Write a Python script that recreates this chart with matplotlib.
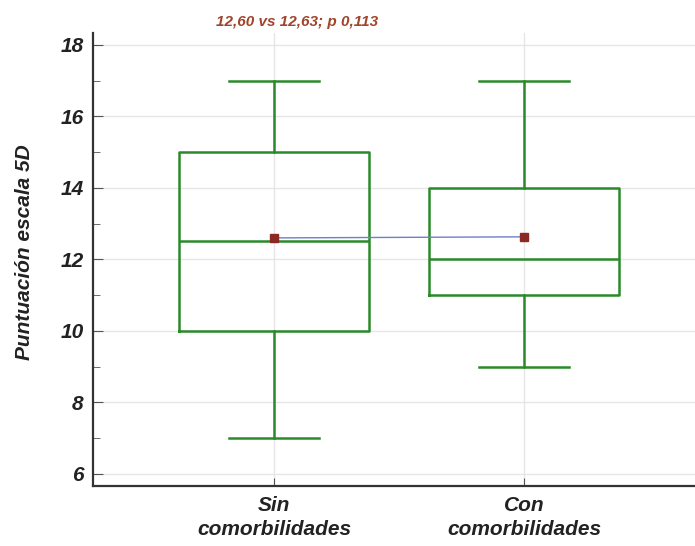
import matplotlib.pyplot as plt

# --- Data ---
groups = ["Sin\ncomorbilidades", "Con\ncomorbilidades"]
mins = [7, 9]
q1s = [10, 11]
medians = [12.5, 12]
q3s = [15, 14]
maxs = [17, 17]
means = [12.60, 12.63]
title = "12,60 vs 12,63; p 0,113"

green = "#2a8a2a"
font = "Liberation Sans"

stats = []
for g, lo, a, m, b, hi, mu in zip(groups, mins, q1s, medians, q3s, maxs, means):
    stats.append(dict(label=g, whislo=lo, q1=a, med=m, q3=b, whishi=hi, mean=mu, fliers=[]))

fig = plt.figure(figsize=(6.95, 5.46), dpi=100)
ax = fig.add_axes([0.134, 0.11, 0.866, 0.83])

pos = list(range(len(groups)))
ax.bxp(stats, positions=pos, widths=0.76, showmeans=False, showfliers=False,
       boxprops=dict(color=green, linewidth=1.8),
       whiskerprops=dict(color=green, linewidth=1.8),
       capprops=dict(color=green, linewidth=1.8),
       medianprops=dict(color=green, linewidth=1.8),
       capwidths=0.36, zorder=3)

ax.plot(pos, means, color="#6f7fc8", linewidth=1, zorder=4)
ax.plot(pos, means, linestyle="none", marker="s", markersize=6,
        color="#8b2a22", zorder=5)

ax.set_xlim(-0.724, 1.684)
ax.set_ylim(5.66, 18.34)
ax.set_yticks([6, 8, 10, 12, 14, 16, 18])
ax.set_yticks([7, 9, 11, 13, 15, 17], minor=True)
ax.set_xticks(pos)
ax.set_xticklabels(groups, linespacing=1.35)

ax.grid(True, color="#e6e6e6", linewidth=1)
ax.set_axisbelow(True)
for s in ["top", "right"]:
    ax.spines[s].set_visible(False)
for s in ["left", "bottom"]:
    ax.spines[s].set_linewidth(1.6)
    ax.spines[s].set_color("#333333")

ax.tick_params(axis="both", which="both", direction="in", color="#555555")
ax.tick_params(axis="y", which="major", length=7, pad=7)
ax.tick_params(axis="y", which="minor", length=5)
ax.tick_params(axis="x", length=6, pad=7)

for lab in ax.get_yticklabels() + ax.get_xticklabels():
    lab.set_fontfamily(font)
    lab.set_fontstyle("italic")
    lab.set_fontweight("bold")
    lab.set_fontsize(15)
    lab.set_color("#222222")

ax.set_ylabel("Puntuación escala 5D", fontfamily=font, fontstyle="italic",
              fontweight="bold", fontsize=15, color="#222222")
ax.yaxis.set_label_coords(-0.098, 0.515)
ax.set_title(title, fontfamily=font, fontstyle="italic", fontweight="bold",
             fontsize=11, color="#a0442a", pad=5, x=0.339)

fig.savefig("out.png", dpi=100)
